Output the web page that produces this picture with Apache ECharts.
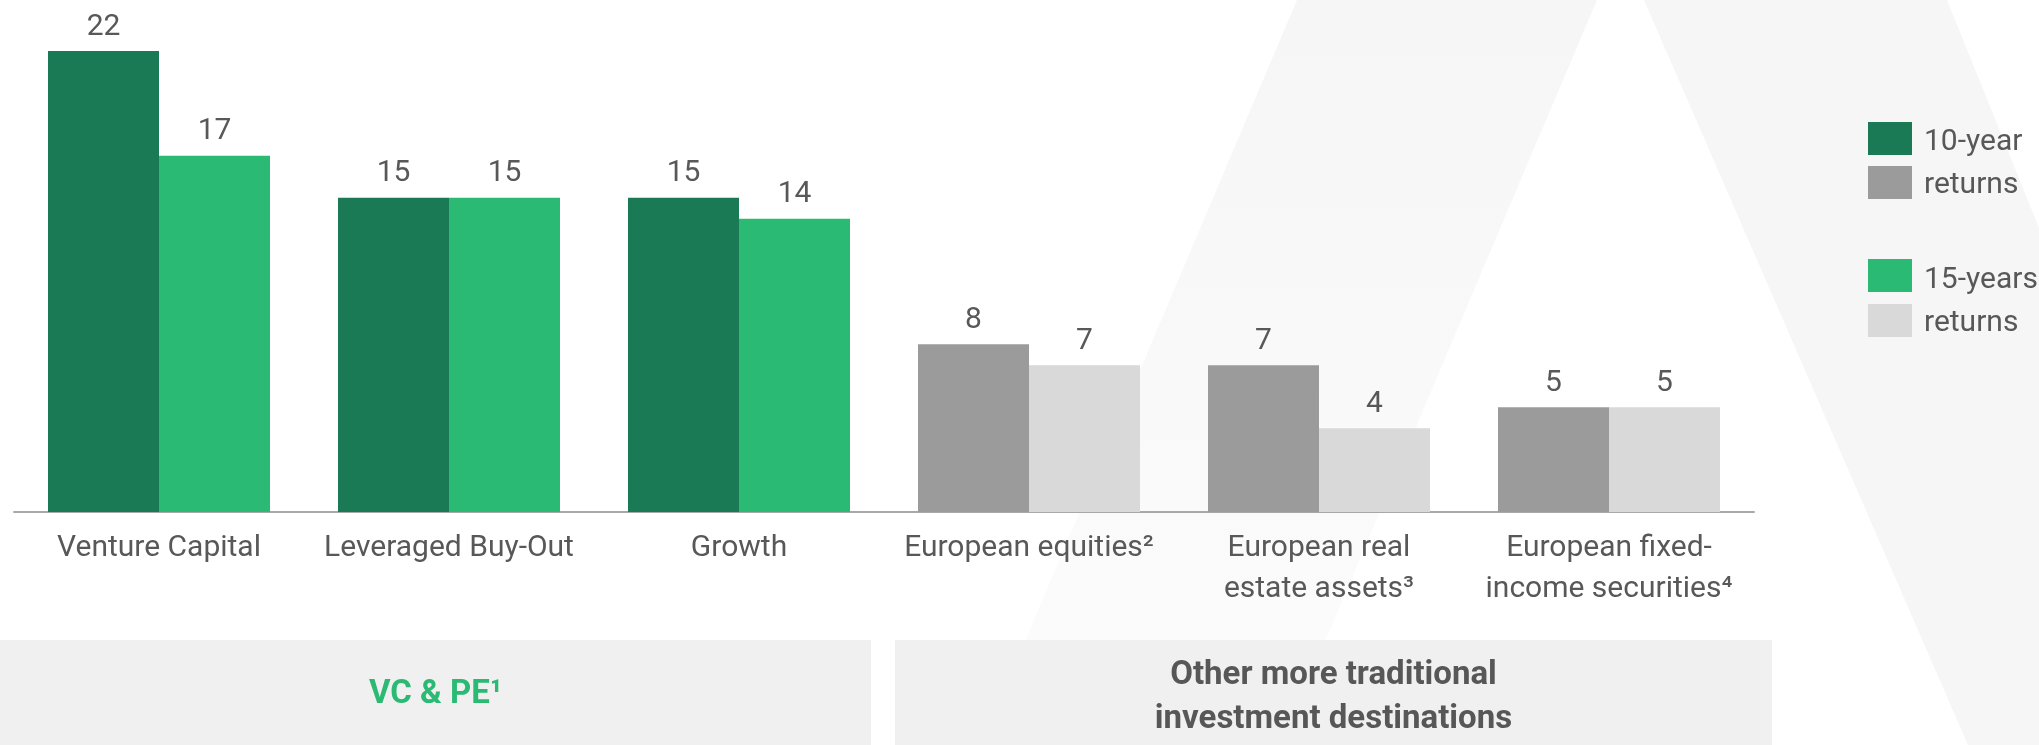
<!DOCTYPE html>
<html>
<head>
<meta charset="utf-8">
<script src="https://cdn.jsdelivr.net/npm/echarts@6/dist/echarts.min.js"></script>
<style>
  html, body { margin: 0; padding: 0; background: #ffffff; }
  #chart { width: 2039px; height: 745px; }
</style>
</head>
<body>
<div id="chart"></div>
<script>
// Annualised returns by asset class (%)
const categories = [
  'Venture Capital',
  'Leveraged Buy-Out',
  'Growth',
  'European equities²',
  'European real\nestate assets³',
  'European fixed-\nincome securities⁴'
];
const tenYearReturns = [22, 15, 15, 8, 7, 5];
const fifteenYearReturns = [17, 15, 14, 7, 4, 5];

// Category groups shown in the panels under the axis
const groupTitles = ['VC & PE¹', 'Other more traditional\ninvestment destinations'];
const groupSizes = [3, 3];

const legendLines = [['10-year', 'returns'], ['15-years', 'returns']];

// Colours: [private markets, traditional assets]
const tenYearColors = ['#1b7a56', '#9b9b9b'];
const fifteenYearColors = ['#2bba74', '#d9d9d9'];
const textColor = '#585858';
const FONT = 'Roboto, "Noto Sans", sans-serif';

function groupIndex(i) {
  let acc = 0;
  for (let g = 0; g < groupSizes.length; g++) {
    acc += groupSizes[g];
    if (i < acc) return g;
  }
  return groupSizes.length - 1;
}

const chart = echarts.init(document.getElementById('chart'), null, { renderer: 'canvas' });

// Faint background strokes
const bgGraphics = [
  {
    type: 'polygon', z: -10, silent: true,
    shape: { points: [[1297, 0], [1597, 0], [1281, 745], [981, 745]] },
    style: {
      fill: new echarts.graphic.LinearGradient(0, 0, 0, 1, [
        { offset: 0, color: '#f6f6f6' },
        { offset: 1, color: '#fcfcfc' }
      ])
    }
  },
  {
    type: 'polygon', z: -10, silent: true,
    shape: { points: [[1644, 0], [1947, 0], [2039, 228], [2039, 745], [1968, 745]] },
    style: { fill: '#f6f6f6' }
  }
];

// Group panels under the axis
const panels = [
  { x: 0, w: 871, color: '#2bba74' },
  { x: 895, w: 877, color: '#575757' }
];
const panelGraphics = [];
panels.forEach((p, g) => {
  panelGraphics.push({
    type: 'rect', z: 1, silent: true,
    shape: { x: p.x, y: 640, width: p.w, height: 105 },
    style: { fill: '#f0f0f0' }
  });
  panelGraphics.push({
    type: 'text', z: 2, silent: true,
    x: p.x + p.w / 2, y: g === 0 ? 695 : 698,
    style: {
      text: groupTitles[g],
      font: 'bold 33px ' + FONT,
      fill: p.color,
      align: 'center',
      verticalAlign: 'middle',
      lineHeight: 44
    }
  });
});

// Legend: colour swatches for both groups, two-line captions
const legendGraphics = [];
const swatchTops = [[122, 166], [259, 304]];
const captionY = [[142, 185], [280, 323]];
[tenYearColors, fifteenYearColors].forEach((cols, s) => {
  cols.forEach((c, k) => {
    legendGraphics.push({
      type: 'rect', z: 3, silent: true,
      shape: { x: 1868, y: swatchTops[s][k], width: 44, height: 33 },
      style: { fill: c }
    });
    legendGraphics.push({
      type: 'text', z: 3, silent: true,
      x: 1924, y: captionY[s][k],
      style: {
        text: legendLines[s][k],
        font: '30px ' + FONT,
        fill: textColor,
        align: 'left',
        verticalAlign: 'middle'
      }
    });
  });
});

const valueLabel = {
  show: true,
  position: 'top',
  distance: 9,
  fontFamily: FONT,
  fontSize: 30,
  color: textColor
};

chart.setOption({
  backgroundColor: '#ffffff',
  animation: false,
  grid: { left: 14, right: 285, top: 51, bottom: 233, containLabel: false },
  xAxis: {
    type: 'category',
    data: categories,
    axisLine: { show: true, lineStyle: { color: '#a8a8a8', width: 2 } },
    axisTick: { show: false },
    axisLabel: {
      interval: 0,
      margin: 16,
      fontFamily: FONT,
      fontSize: 30,
      lineHeight: 41,
      color: textColor,
      align: 'center'
    },
    splitLine: { show: false }
  },
  yAxis: {
    type: 'value',
    min: 0,
    max: 22,
    show: false,
    splitLine: { show: false }
  },
  series: [
    {
      name: '10-year returns',
      type: 'bar',
      data: tenYearReturns,
      barWidth: 111,
      barGap: '0%',
      itemStyle: { color: p => tenYearColors[groupIndex(p.dataIndex)] },
      label: valueLabel
    },
    {
      name: '15-years returns',
      type: 'bar',
      data: fifteenYearReturns,
      barWidth: 111,
      barGap: '0%',
      itemStyle: { color: p => fifteenYearColors[groupIndex(p.dataIndex)] },
      label: valueLabel
    }
  ],
  graphic: bgGraphics.concat(panelGraphics, legendGraphics)
});
</script>
</body>
</html>
